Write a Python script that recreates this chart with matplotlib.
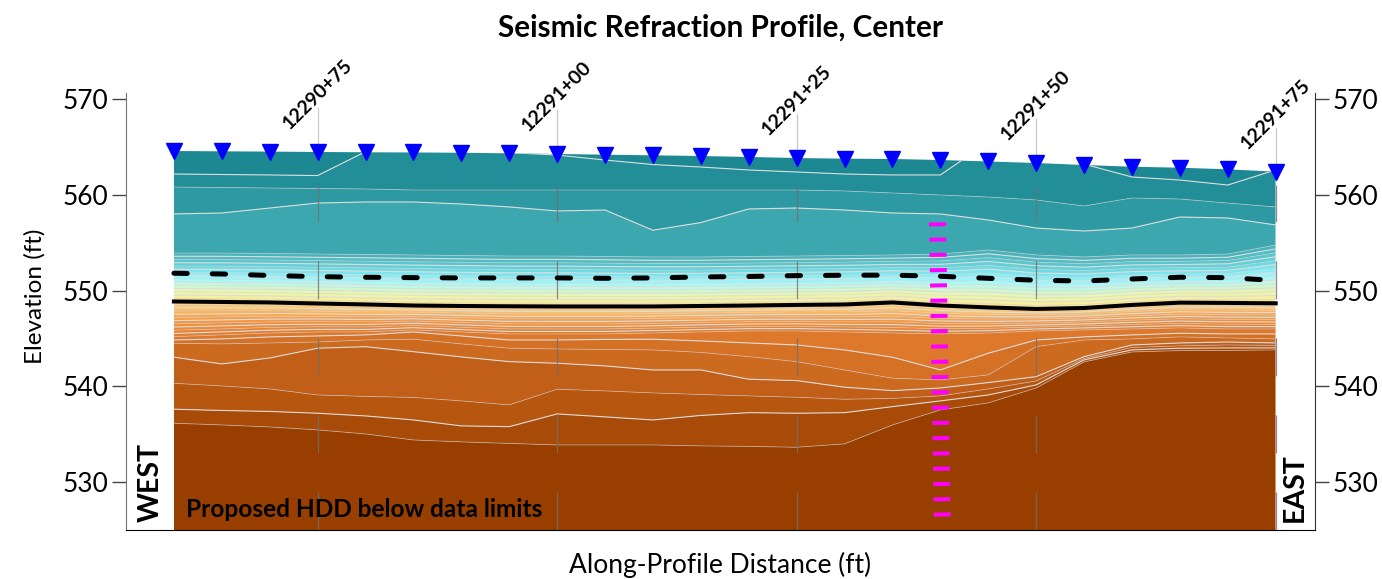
import numpy as np
import matplotlib.pyplot as plt
from matplotlib.patches import Polygon

plt.rcParams['font.family'] = ['Lato', 'DejaVu Sans']
plt.rcParams['lines.scale_dashes'] = False

# geophone positions, ft along profile (0 = 12290+60)
dist = [0, 5, 10, 15, 20, 25, 30, 35, 40, 45, 50, 55,
        60, 65, 70, 75, 80, 85, 90, 95, 100, 105, 110, 115]
surface = [564.57, 564.54, 564.51, 564.47, 564.44, 564.42, 564.39, 564.33,
           564.26, 564.19, 564.12, 564.05, 563.95, 563.84, 563.77, 563.74,
           563.63, 563.48, 563.32, 563.11, 562.93, 562.83, 562.66, 562.41]

stations = [15, 40, 65, 90, 115]
station_idx = [3, 8, 13, 18, 23]
station_labels = ["12290+75", "12291+00", "12291+25", "12291+50", "12291+75"]

# elevation of velocity contour levels at each geophone column
lvl1 = [562.17, 562.12, 562.07, 562.01, 564.50, 565.50, 565.50, 564.40,
        564.15, 563.63, 563.16, 562.90, 562.59, 562.38, 562.17, 562.07,
        562.07, 565.50, 565.50, 563.20, 561.86, 561.54, 561.02, 562.60]
lvl2 = [560.81, 560.76, 560.71, 560.66, 560.61, 560.50, 560.50, 560.50,
        560.50, 560.50, 560.50, 560.50, 560.50, 560.50, 560.40, 560.19,
        559.98, 559.77, 559.46, 558.83, 559.67, 559.56, 559.14, 558.73]
lvl3 = [558.00, 558.10, 558.62, 559.14, 559.25, 559.25, 559.04, 558.73,
        558.31, 558.41, 556.30, 557.10, 558.52, 558.62, 558.41, 558.10,
        558.00, 557.37, 556.53, 556.22, 556.53, 557.68, 557.58, 556.85]
lvl4 = [553.92, 553.92, 553.87, 553.82, 553.77, 553.72, 553.66, 553.61,
        553.61, 553.56, 553.51, 553.51, 553.56, 553.61, 553.66, 553.72,
        553.82, 554.24, 553.72, 553.51, 553.72, 553.72, 553.82, 554.76]
bedrock = [548.86, 548.81, 548.76, 548.65, 548.55, 548.44, 548.39, 548.36,
           548.34, 548.34, 548.34, 548.39, 548.44, 548.50, 548.55, 548.76,
           548.44, 548.24, 548.08, 548.18, 548.50, 548.74, 548.71, 548.67]
lvl30 = [545.19, 545.37, 545.57, 545.68, 545.68, 545.89, 545.68, 545.47,
         545.47, 545.47, 545.57, 545.68, 545.78, 545.78, 545.68, 545.57,
         545.47, 545.57, 545.78, 545.89, 545.99, 546.10, 545.99, 545.99]
lvl31 = [544.84, 544.95, 545.16, 545.26, 545.37, 545.68, 545.26, 544.84,
         544.84, 544.90, 544.92, 544.74, 544.53, 544.32, 543.80, 543.04,
         541.71, 543.46, 544.84, 545.16, 545.37, 545.54, 545.47, 545.47]
lvl32 = [544.50, 544.43, 544.53, 544.63, 544.84, 544.92, 544.43, 543.98,
         543.90, 543.85, 543.80, 543.54, 543.10, 542.58, 541.71, 540.85,
         540.67, 541.19, 544.14, 544.84, 544.95, 545.16, 545.05, 544.95]
lvl33 = [543.04, 542.34, 542.96, 543.98, 544.14, 543.62, 543.07, 542.58,
         542.41, 542.13, 541.71, 541.71, 540.74, 540.60, 539.91, 539.55,
         539.83, 540.39, 541.01, 543.10, 544.32, 544.53, 544.63, 544.53]
lvl34 = [540.32, 540.04, 539.73, 539.10, 538.95, 538.84, 538.48, 538.06,
         539.70, 539.52, 539.31, 539.15, 539.00, 538.86, 538.65, 538.74,
         539.00, 539.73, 540.56, 542.91, 544.06, 544.22, 544.32, 544.27]
lvl35 = [537.61, 537.48, 537.38, 537.19, 536.91, 536.49, 535.87, 535.79,
         537.12, 536.81, 536.49, 536.96, 537.25, 537.19, 537.25, 537.88,
         538.48, 539.10, 540.15, 542.76, 543.80, 543.98, 544.01, 544.01]
lvl36 = [536.15, 535.97, 535.76, 535.45, 535.03, 534.40, 534.20, 534.04,
         533.88, 533.88, 533.88, 533.78, 533.73, 533.64, 533.99, 535.97,
         537.54, 538.27, 539.83, 542.55, 543.59, 543.73, 543.75, 543.80]
water = [551.81, 551.73, 551.58, 551.45, 551.39, 551.35, 551.32, 551.32,
         551.32, 551.28, 551.32, 551.42, 551.47, 551.56, 551.60, 551.61,
         551.49, 551.28, 551.08, 551.00, 551.21, 551.39, 551.35, 551.05]

# proposed HDD trace
hdd_x = [79.7, 80.2]
hdd_elev = [557.13, 526.2]

band_colors = [
    '#1c8892', '#218e98', '#2d9aa3', '#3ca7af', '#48b3ba', '#50bcc3',
    '#58c6cd', '#62d0d8', '#6edbe3', '#7be6ed', '#89eff5', '#98f6fb',
    '#a9f9f6', '#bdf9e4', '#d1f8cc', '#e3f7b6', '#eff5a6', '#f6ef9c',
    '#f9e590', '#fdd27e', '#fdc870', '#fcbd64', '#fbb259', '#f9a84f',
    '#f79f47', '#f49740', '#f0903b', '#ec8a36', '#e88432', '#e37e2e',
    '#de782a', '#d57125', '#cc6a20', '#c15e18', '#b7560f', '#a84a08',
    '#983f00']

# grid: rows of equal level value, following the read contour elevations
n = len(dist)
rows_elev = [[566.0] * n, lvl1, lvl2, lvl3, lvl4, bedrock, lvl30, lvl31,
             lvl32, lvl33, lvl34, lvl35, lvl36, [525.0] * n]
rows_val = [0.5, 1, 2, 3, 4, 19, 30, 31, 32, 33, 34, 35, 36, 36.5]
Y = np.array(rows_elev)
X = np.tile(np.array(dist, dtype=float), (len(rows_elev), 1))
Z = np.repeat(np.array(rows_val, dtype=float)[:, None], n, axis=1)
levels = [-1] + list(range(1, len(band_colors))) + [40]

fig = plt.figure(figsize=(13.82, 5.79), dpi=100)
ax = fig.add_axes([126 / 1382, 49 / 579, 1189 / 1382, 437.3 / 579])

clip = Polygon([(dist[0], 525)] + list(zip(dist, surface)) + [(dist[-1], 525)],
               closed=True, transform=ax.transData, facecolor='none', edgecolor='none')
ax.add_patch(clip)

cf = ax.contourf(X, Y, Z, levels=levels, colors=band_colors, antialiased=True)
cf.set_clip_path(clip)
c_major = ax.contour(X, Y, Z, levels=list(range(1, 37, 2)), colors='#dcdcdc', linewidths=0.8)
c_major.set_clip_path(clip)
c_minor = ax.contour(X, Y, Z, levels=list(range(2, 37, 2)), colors='#d4ccd0',
                     linewidths=0.6, alpha=0.6)
c_minor.set_clip_path(clip)

# station markers
ax.vlines(stations, 525, 561, colors='#707070', linewidth=0.9, alpha=0.8,
          linestyles=[(0, (27.4, 28.1))])
for s, i, lab in zip(stations, station_idx, station_labels):
    ax.plot([s, s], [surface[i], surface[i] + 4.6], color='#c8c8c8', lw=0.9, zorder=1)
    ax.text(s, surface[i] + 6.0, lab, rotation=45, ha='center', va='center',
            fontsize=14, fontweight='bold', clip_on=False)

ax.plot(dist, water, color='black', lw=3.6, dashes=(9.6, 18), dash_capstyle='round', zorder=5)
ax.plot(dist, bedrock, color='black', lw=2.9, zorder=5)
ax.plot(hdd_x, hdd_elev, color='#ff00ff', lw=12.2, dashes=(2.9, 8.1), zorder=6)
ax.plot(dist, surface, linestyle='none', marker='v', color='#0000ff', ms=12,
        clip_on=False, zorder=7)

ax.text(1.25, 526.37, 'Proposed HDD below data limits', ha='left', va='baseline',
        fontsize=17.6, fontweight='bold')
ax.text(-2.4, 525.85, 'WEST', rotation=90, ha='center', va='bottom',
        fontsize=20.5, fontweight='bold')
ax.text(117.0, 525.85, 'EAST', rotation=90, ha='center', va='bottom',
        fontsize=20.5, fontweight='bold')

ax.set_xlim(-5, 119.1)
ax.set_ylim(525, 570.66)
ax.set_xticks([])
ax.set_yticks([530, 540, 550, 560, 570])
ax.tick_params(axis='y', left=True, right=True, labelleft=True, labelright=True,
               length=10, width=1, pad=3, labelsize=19, color='#444444')
ax.spines['top'].set_visible(False)
ax.spines['left'].set_color('#777777')
ax.spines['right'].set_color('#333333')
ax.spines['bottom'].set_color('black')

fig.text(0.5214, 0.952, 'Seismic Refraction Profile, Center', ha='center', va='center',
         fontsize=21.4, fontweight='bold')
fig.text(0.0253, 0.489, 'Elevation (ft)', rotation=90, ha='center', va='center', fontsize=17.5)
fig.text(0.521, 0.024, 'Along-Profile Distance (ft)', ha='center', va='center', fontsize=19)

fig.savefig('out.png', dpi=100)
